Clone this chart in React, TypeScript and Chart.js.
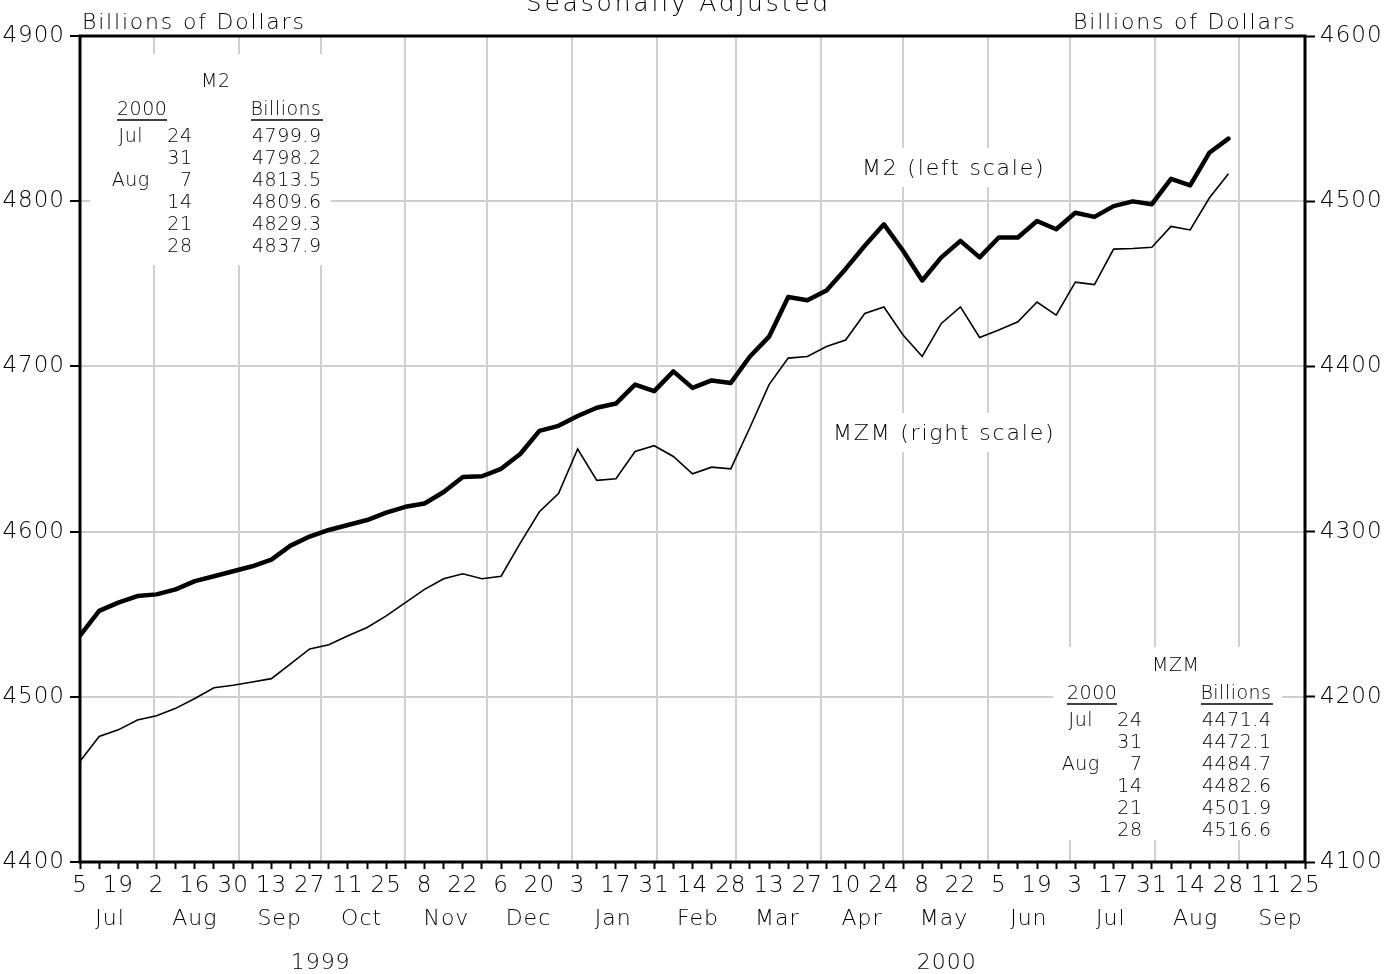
import React, { useEffect, useRef } from 'react';
import { Chart, LineController, LineElement, PointElement, LinearScale } from 'chart.js';

// ---------- data ----------
const m2Values = [
  4537, 4552, 4557, 4561, 4562, 4565, 4570, 4573, 4576, 4579,
  4583, 4591.5, 4597, 4601, 4604, 4607, 4611.5, 4615, 4617, 4624,
  4633, 4633.5, 4638, 4647, 4661, 4664, 4670, 4675, 4677.5, 4689,
  4685, 4697, 4687, 4691.5, 4690, 4706, 4718, 4742, 4740, 4746,
  4759, 4773, 4786, 4770, 4752, 4766, 4776, 4766, 4778, 4778,
  4788, 4783, 4793, 4790.5, 4797, 4799.9, 4798.2, 4813.5, 4809.6, 4829.3,
  4837.9,
];
const mzmValues = [
  4161, 4176, 4180, 4186, 4188.5, 4193, 4199, 4205.5, 4207, 4209,
  4211, 4220, 4229, 4231.5, 4237, 4242, 4249, 4257, 4265, 4271.5,
  4274.5, 4271.5, 4273, 4293, 4312, 4323, 4350, 4331, 4332, 4348.5,
  4352, 4345.5, 4335, 4339, 4338, 4363, 4389, 4405, 4406, 4412,
  4416, 4432, 4436, 4419, 4406, 4426, 4436, 4417.5, 4422, 4427,
  4439, 4431, 4451, 4449.5, 4471, 4471.4, 4472.1, 4484.7, 4482.6, 4501.9,
  4516.6,
];
const monthNames = ['Jul', 'Aug', 'Sep', 'Oct', 'Nov', 'Dec', 'Jan', 'Feb', 'Mar', 'Apr', 'May', 'Jun', 'Jul', 'Aug', 'Sep'];
const yearLabels = ['1999', '2000'];
const tableDays = ['24', '31', '7', '14', '21', '28'];
const tableMonths = ['Jul', '', 'Aug', '', '', ''];
const leftTicks = [4400, 4500, 4600, 4700, 4800, 4900];
const rightTicks = [4100, 4200, 4300, 4400, 4500, 4600];

// ---------- date helpers (days since Mon Jul 5 1999) ----------
const DAY = 86400000;
const T0 = Date.UTC(1999, 6, 5);
const dayIndex = (y: number, m: number, d: number) => Math.round((Date.UTC(y, m, d) - T0) / DAY);
const weekDays = m2Values.map((_, i) => i * 7); // weekly observation dates
const X_MAX = 448; // Sep 25 2000
const tickDays: number[] = [];
for (let d = 0; d <= X_MAX; d += 7) tickDays.push(d);
const monthStartDays: number[] = [];
for (let k = 1; k <= 14; k++) monthStartDays.push(dayIndex(1999, 6 + k, 1));
const monthMidDays = monthNames.map((_, k) => dayIndex(1999, 6 + k, 16));
const yearCenters = [
  (dayIndex(1999, 6, 1) + dayIndex(2000, 0, 1)) / 2,
  (dayIndex(2000, 0, 1) + dayIndex(2000, 9, 1)) / 2,
];

// ---------- styles ----------
const TEXT_FAMILY = '"DejaVu Sans", sans-serif';
const WEIGHT = '200';
const GRID = '#cfcfcf';
const TICK_SPACING = '1px';

class SpacedLinearScale extends LinearScale {
  static id = 'spacedLinear';
  drawLabels(chartArea: any) {
    const ctx = (this as any).ctx as CanvasRenderingContext2D;
    ctx.save();
    (ctx as any).letterSpacing = TICK_SPACING;
    super.drawLabels(chartArea);
    ctx.restore();
  }
}

Chart.register(LineController, LineElement, PointElement, LinearScale, SpacedLinearScale);

function txt(ctx: CanvasRenderingContext2D, s: string, x: number, y: number, align: CanvasTextAlign, size: number, spacing = 0) {
  ctx.save();
  ctx.font = `${WEIGHT} ${size}px ${TEXT_FAMILY}`;
  (ctx as any).letterSpacing = spacing + 'px';
  ctx.fillStyle = '#000';
  ctx.textBaseline = 'alphabetic';
  ctx.textAlign = align;
  let xx = x;
  if (align === 'right') xx += spacing;
  else if (align === 'center') xx += spacing / 2;
  ctx.fillText(s, xx, y);
  ctx.restore();
}

function whiteBox(ctx: CanvasRenderingContext2D, x0: number, y0: number, x1: number, y1: number) {
  ctx.save();
  ctx.fillStyle = '#fff';
  ctx.fillRect(x0, y0, x1 - x0, y1 - y0);
  ctx.restore();
}

function underline(ctx: CanvasRenderingContext2D, x0: number, x1: number, y: number) {
  ctx.save();
  ctx.strokeStyle = '#000';
  ctx.lineWidth = 1.6;
  ctx.beginPath();
  ctx.moveTo(x0, y);
  ctx.lineTo(x1, y);
  ctx.stroke();
  ctx.restore();
}

function drawTable(ctx: CanvasRenderingContext2D, title: string, values: number[], dx: number, dy: number, titleCx: number) {
  const T = 19;
  txt(ctx, title, titleCx, 87 + dy, 'center', T, 0.5);
  txt(ctx, '2000', 117 + dx, 115 + dy, 'left', T, 0.5);
  underline(ctx, 117 + dx, 167 + dx, 120 + dy);
  txt(ctx, 'Billions', 321 + dx, 115 + dy, 'right', T, 0.5);
  underline(ctx, 251 + dx, 323 + dx, 120 + dy);
  const last = values.slice(values.length - 6);
  for (let k = 0; k < 6; k++) {
    const by = 142 + 22 * k + dy;
    if (tableMonths[k]) txt(ctx, tableMonths[k], 130.5 + dx, by, 'center', T, 0.5);
    txt(ctx, tableDays[k], 192 + dx, by, 'right', T, 0.5);
    txt(ctx, last[k].toFixed(1), 321 + dx, by, 'right', T, 0.5);
  }
}

const annotations = {
  id: 'annotations',
  beforeDatasetsDraw(chart: any) {
    const ctx = chart.ctx as CanvasRenderingContext2D;
    // M2 table
    whiteBox(ctx, 90, 54, 331, 265);
    drawTable(ctx, 'M2', m2Values, 0, 0, 215.5);
    // MZM table
    whiteBox(ctx, 1053, 647, 1282, 840);
    drawTable(ctx, 'MZM', mzmValues, 950, 584, 1175.5);
    // series labels
    whiteBox(ctx, 852, 148, 1058, 187);
    txt(ctx, 'M2 (left scale)', 862, 175, 'left', 22, 1.8);
    whiteBox(ctx, 823, 413, 1067, 452);
    txt(ctx, 'MZM (right scale)', 833, 440, 'left', 22, 1.8);
  },
  afterDatasetsDraw(chart: any) {
    const ctx = chart.ctx as CanvasRenderingContext2D;
    const a = chart.chartArea;
    ctx.save();
    ctx.strokeStyle = '#000';
    ctx.lineWidth = 3;
    ctx.strokeRect(a.left, a.top, a.right - a.left, a.bottom - a.top);
    ctx.restore();
  },
  afterDraw(chart: any) {
    const ctx = chart.ctx as CanvasRenderingContext2D;
    txt(ctx, 'Seasonally Adjusted', 677, 11, 'center', 25, 2.8);
    txt(ctx, 'Billions of Dollars', 82, 29, 'left', 22, 1.8);
    txt(ctx, 'Billions of Dollars', 1295, 29, 'right', 22, 1.8);
  },
};

const numFont = { family: TEXT_FAMILY, size: 23, weight: WEIGHT as any };
const labelFont = { family: TEXT_FAMILY, size: 22, weight: WEIGHT as any };

export default function App() {
  const ref = useRef<HTMLCanvasElement>(null);
  useEffect(() => {
    const chart = new Chart(ref.current as HTMLCanvasElement, {
      type: 'line',
      data: {
        datasets: [
          {
            label: 'M2',
            data: weekDays.map((d, i) => ({ x: d, y: m2Values[i] })),
            xAxisID: 'x',
            yAxisID: 'y',
            borderColor: '#000',
            borderWidth: 4.5,
            pointRadius: 0,
            tension: 0,
            borderJoinStyle: 'round',
            borderCapStyle: 'round',
          },
          {
            label: 'MZM',
            data: weekDays.map((d, i) => ({ x: d, y: mzmValues[i] })),
            xAxisID: 'x',
            yAxisID: 'y2',
            borderColor: '#000',
            borderWidth: 1.6,
            pointRadius: 0,
            tension: 0,
          },
        ],
      },
      options: {
        animation: false,
        responsive: false,
        devicePixelRatio: 1,
        layout: { padding: { top: 36, left: 0, right: 0, bottom: 0 } },
        plugins: { legend: { display: false }, tooltip: { enabled: false } } as any,
        scales: {
          x: {
            type: 'spacedLinear' as any,
            position: 'bottom',
            weight: 0,
            min: 0,
            max: X_MAX,
            afterBuildTicks: (s: any) => { s.ticks = tickDays.map((v) => ({ value: v })); },
            afterFit: (s: any) => { s.height = 40; },
            grid: { drawOnChartArea: false, drawTicks: true, tickLength: 7, tickColor: '#000', tickWidth: 2 },
            border: { display: false },
            ticks: {
              autoSkip: false,
              maxRotation: 0,
              padding: 3,
              color: '#000',
              font: numFont,
              callback: (v: any, i: number) => (i % 2 === 0 ? String(new Date(T0 + Number(v) * DAY).getUTCDate()) : ''),
            },
          },
          xGrid: {
            type: 'linear',
            position: 'bottom',
            weight: 1,
            min: 0,
            max: X_MAX,
            afterBuildTicks: (s: any) => { s.ticks = monthStartDays.map((v) => ({ value: v })); },
            afterFit: (s: any) => { s.height = 0; },
            grid: { drawOnChartArea: true, drawTicks: false, color: GRID, lineWidth: 2 },
            border: { display: false },
            ticks: { display: false },
          },
          xMonth: {
            type: 'spacedLinear' as any,
            position: 'bottom',
            weight: 2,
            min: 0,
            max: X_MAX,
            afterBuildTicks: (s: any) => { s.ticks = monthMidDays.map((v) => ({ value: v })); },
            afterFit: (s: any) => { s.height = 40; },
            grid: { display: false, drawTicks: false, drawOnChartArea: false },
            border: { display: false },
            ticks: {
              autoSkip: false,
              maxRotation: 0,
              padding: 4,
              color: '#000',
              font: labelFont,
              callback: (_v: any, i: number) => monthNames[i],
            },
          },
          xYear: {
            type: 'spacedLinear' as any,
            position: 'bottom',
            weight: 3,
            min: 0,
            max: X_MAX,
            afterBuildTicks: (s: any) => { s.ticks = yearCenters.map((v) => ({ value: v })); },
            afterFit: (s: any) => { s.height = 32; },
            grid: { display: false, drawTicks: false, drawOnChartArea: false },
            border: { display: false },
            ticks: {
              autoSkip: false,
              maxRotation: 0,
              padding: 8,
              color: '#000',
              font: labelFont,
              callback: (_v: any, i: number) => yearLabels[i],
            },
          },
          y: {
            type: 'spacedLinear' as any,
            position: 'left',
            min: 4400,
            max: 4900,
            afterBuildTicks: (s: any) => { s.ticks = leftTicks.map((v) => ({ value: v })); },
            afterFit: (s: any) => { s.width = 80; },
            grid: { color: GRID, lineWidth: 2, tickColor: '#000', tickLength: 10, tickWidth: 2 },
            border: { display: false },
            ticks: { padding: 5, color: '#000', font: numFont, callback: (v: any) => String(v) },
          },
          y2: {
            type: 'spacedLinear' as any,
            position: 'right',
            min: 4100,
            max: 4600,
            afterBuildTicks: (s: any) => { s.ticks = rightTicks.map((v) => ({ value: v })); },
            afterFit: (s: any) => { s.width = 88; },
            grid: { drawOnChartArea: false, tickColor: '#000', tickLength: 10, tickWidth: 2 },
            border: { display: false },
            ticks: { padding: 5, color: '#000', font: numFont, callback: (v: any) => String(v) },
          },
        } as any,
      },
      plugins: [annotations],
    } as any);
    return () => chart.destroy();
  }, []);
  return (
    <div style={{ position: 'absolute', left: 0, top: 0, width: 1393, height: 974, background: '#fff' }}>
      <canvas ref={ref} width={1393} height={974} style={{ display: 'block', width: 1393, height: 974 }} />
    </div>
  );
}
